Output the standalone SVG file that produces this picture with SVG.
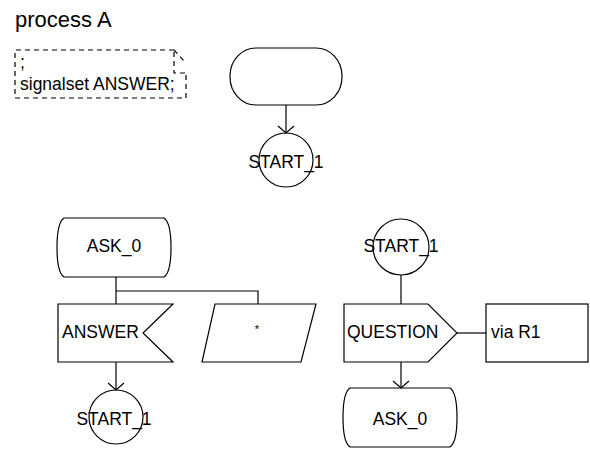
<svg xmlns="http://www.w3.org/2000/svg" width="590" height="449" viewBox="0 0 590 449">
  <defs>
    <style>
      .sym { fill: #fff; stroke: #000; stroke-width: 1.2; }
      .dash { fill: none; stroke: #000; stroke-width: 1.2; stroke-dasharray: 5 4; }
      .wire { fill: none; stroke: #000; stroke-width: 1.2; }
      .lbl { font-family: "Liberation Sans", Arial, sans-serif; font-size: 17.5px; fill: #000; }
      .mid { text-anchor: middle; }
    </style>
    <marker id="arrow" viewBox="-10 -10 12 20" markerWidth="12" markerHeight="20" refX="0" refY="0" orient="auto" markerUnits="userSpaceOnUse">
      <path d="M -7,-8 L 0,0 L -7,8" fill="none" stroke="#000" stroke-width="1.2"/>
    </marker>
  </defs>

  <rect width="590" height="449" fill="#fff"/>

  <text class="lbl" x="15" y="26.5" style="font-size:22px">process A</text>

  <!-- declaration text symbol -->
  <g id="text-decl">
    <path class="dash" d="M 174,50 H 15 V 98 H 186 V 73"/>
    <path class="dash" d="M 174,50 L 186,63"/>
    <path class="dash" d="M 174,52 V 73 H 186"/>
    <text class="lbl" x="20" y="68">;</text>
    <text class="lbl" x="20" y="90">signalset ANSWER;</text>
  </g>

  <!-- start -->
  <g id="start">
    <rect class="sym" x="230" y="48" width="112" height="57" rx="26" ry="28"/>
  </g>
  <g id="label-start1-top">
    <circle class="sym" cx="286" cy="160" r="27"/>
    <text class="lbl mid" x="286" y="168">START_1</text>
  </g>

  <!-- state ASK_0 with its inputs -->
  <g id="state-ask0">
    <path class="sym" d="M 64,218 H 164 C 170,222 171,235 171,247.5 C 171,260 170,273 164,277 H 64 C 58,273 57,260 57,247.5 C 57,235 58,222 64,218 Z"/>
    <text class="lbl mid" x="114" y="252">ASK_0</text>
  </g>
  <g id="input-answer">
    <polygon class="sym" points="58,304 173,304 143,333 173,362 58,362"/>
    <text class="lbl" x="62" y="338">ANSWER</text>
  </g>
  <g id="input-any">
    <polygon class="sym" points="215,304 316,304 301,362 202,362"/>
    <text class="lbl mid" x="257" y="333" style="font-size:11px">*</text>
  </g>
  <g id="join-start1-bottom">
    <circle class="sym" cx="116" cy="417" r="27"/>
    <text class="lbl mid" x="114" y="425">START_1</text>
  </g>

  <!-- label START_1 transition -->
  <g id="label-start1-right">
    <circle class="sym" cx="401" cy="247" r="28"/>
    <text class="lbl mid" x="401" y="252">START_1</text>
  </g>
  <g id="output-question">
    <polygon class="sym" points="344,304 428,304 457,333 428,362 344,362"/>
    <text class="lbl" x="347" y="338">QUESTION</text>
  </g>
  <g id="comment-via">
    <rect class="sym" x="486" y="304" width="102" height="58"/>
    <text class="lbl" x="491" y="338">via R1</text>
  </g>
  <g id="nextstate-ask0">
    <path class="sym" d="M 350,388 H 450 C 456,392 457,405 457,417.5 C 457,430 456,443 450,447 H 350 C 344,443 343,430 343,417.5 C 343,405 344,392 350,388 Z"/>
    <text class="lbl mid" x="400" y="425">ASK_0</text>
  </g>

  <g id="connectors">
    <line class="wire" x1="286" y1="105" x2="286" y2="133" marker-end="url(#arrow)"/>
    <line class="wire" x1="116" y1="277" x2="116" y2="304"/>
    <polyline class="wire" points="116,291 258,291 258,304"/>
    <line class="wire" x1="116" y1="362" x2="116" y2="390" marker-end="url(#arrow)"/>
    <line class="wire" x1="401" y1="275" x2="401" y2="304"/>
    <line class="wire" x1="457" y1="333" x2="486" y2="333"/>
    <line class="wire" x1="401" y1="362" x2="401" y2="388" marker-end="url(#arrow)"/>
  </g>
</svg>
